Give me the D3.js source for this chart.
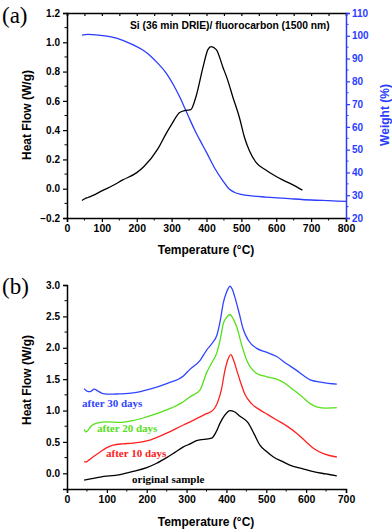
<!DOCTYPE html>
<html>
<head>
<meta charset="utf-8">
<script src="https://cdn.jsdelivr.net/npm/d3@7"></script>
<style>
body { margin: 0; background: #fff; }
svg { display: block; }
</style>
</head>
<body>
<svg id="chart" width="392" height="530"></svg>
<script>

// ---- panel (a) data ----
var heatT = [43, 50, 60, 80, 100, 130, 160, 200, 220, 260, 285, 300, 323, 340, 355, 370, 390, 404, 413, 428, 447, 461, 475, 494, 509, 523, 542, 570, 595, 618, 645, 675];
var heatA = [-0.08, -0.07, -0.06, -0.04, -0.015, 0.02, 0.06, 0.11, 0.15, 0.27, 0.38, 0.44, 0.52, 0.535, 0.54, 0.63, 0.83, 0.95, 0.97, 0.95, 0.83, 0.74, 0.63, 0.49, 0.35, 0.26, 0.18, 0.128, 0.09, 0.06, 0.03, -0.01];

var weightT = [43, 60, 90, 123, 160, 190, 215, 237, 260, 285, 305, 323, 337, 350, 365, 380, 400, 425, 447, 466, 480, 499, 530, 570, 637, 700, 750, 800];
var weightA = [100.3, 100.6, 100.3, 99.6, 98.0, 96.0, 94.0, 91.5, 88, 83.5, 78.5, 73.2, 68.5, 64, 59, 54.5, 48.8, 41.5, 36.3, 32.6, 31.3, 30.4, 29.7, 29.2, 28.5, 27.9, 27.6, 27.3];

var aXTicks = [0, 100, 200, 300, 400, 500, 600, 700, 800];
var aYTicks = [-0.2, 0.0, 0.2, 0.4, 0.6, 0.8, 1.0, 1.2];
var aWTicks = [20, 30, 40, 50, 60, 70, 80, 90, 100, 110];

// ---- panel (b) data ----
var d30T = [43, 50, 58, 68, 78, 90, 108, 130, 166, 208, 250, 292, 309, 334, 350, 365, 376, 385, 392, 400, 409, 415, 421, 432, 442, 455, 476, 500, 526, 550, 576, 595, 610, 640, 677];
var d30 = [1.35, 1.31, 1.30, 1.34, 1.31, 1.27, 1.26, 1.265, 1.28, 1.34, 1.43, 1.55, 1.66, 1.80, 1.96, 2.08, 2.2, 2.45, 2.71, 2.88, 2.98, 2.93, 2.81, 2.55, 2.3, 2.12, 1.99, 1.93, 1.86, 1.75, 1.64, 1.55, 1.49, 1.45, 1.42];

var d20T = [43, 47, 52, 60, 75, 100, 133, 166, 200, 250, 292, 309, 334, 350, 365, 376, 385, 392, 400, 409, 417, 426, 438, 451, 476, 500, 526, 550, 568, 590, 610, 626, 650, 677];
var d20 = [0.70, 0.66, 0.68, 0.75, 0.80, 0.82, 0.81, 0.84, 0.90, 1.01, 1.14, 1.22, 1.33, 1.60, 1.78, 1.92, 2.15, 2.38, 2.48, 2.53, 2.46, 2.33, 2.05, 1.80, 1.59, 1.54, 1.50, 1.42, 1.33, 1.22, 1.11, 1.06, 1.04, 1.045];

var d10T = [43, 48, 55, 65, 83, 100, 116, 140, 166, 208, 250, 292, 309, 334, 350, 367, 380, 388, 395, 403, 411, 418, 426, 436, 447, 463, 484, 505, 526, 550, 576, 600, 618, 645, 677];
var d10 = [0.185, 0.18, 0.21, 0.26, 0.34, 0.41, 0.45, 0.47, 0.48, 0.53, 0.64, 0.77, 0.82, 0.90, 0.95, 1.01, 1.17, 1.35, 1.60, 1.80, 1.89, 1.80, 1.64, 1.44, 1.25, 1.11, 1.01, 0.93, 0.85, 0.76, 0.64, 0.50, 0.40, 0.31, 0.26];

var origT = [43, 83, 133, 166, 200, 225, 250, 270, 292, 309, 325, 342, 363, 375, 384, 395, 409, 420, 434, 455, 470, 484, 500, 518, 540, 559, 590, 618, 650, 677];
var orig = [-0.11, -0.06, -0.02, 0.03, 0.09, 0.16, 0.25, 0.33, 0.42, 0.47, 0.52, 0.54, 0.56, 0.67, 0.80, 0.92, 1.0, 0.98, 0.91, 0.80, 0.62, 0.45, 0.35, 0.26, 0.19, 0.13, 0.075, 0.025, -0.01, -0.04];

var bXTicks = [0, 100, 200, 300, 400, 500, 600, 700];
var bYTicks = [0.0, 0.5, 1.0, 1.5, 2.0, 2.5, 3.0];

var bSeries = [
	{ name: "after 30 days", t: d30T, v: d30, color: "#3045ff", lx: 82, ly: 407 },
	{ name: "after 20 days", t: d20T, v: d20, color: "#55e01a", lx: 97, ly: 432 },
	{ name: "after 10 days", t: d10T, v: d10, color: "#ff2020", lx: 106, ly: 457 },
	{ name: "original sample", t: origT, v: orig, color: "#000000", lx: 132, ly: 483 }
];

var sans = "'Liberation Sans', Arial, sans-serif";
var serif = "'Liberation Serif', 'Times New Roman', serif";

var svg = d3.select("#chart");

//helper: zip two arrays into points
function zip(t, v) {
	return t.map(function(d, i) { return [d, v[i]]; });
}

//helper: draw minor ticks between majors
function minor(g, scale, vals, orient, len, color) {
	vals.forEach(function(v) {
		var p = scale(v);
		var l = g.append("line").attr("stroke", color).attr("stroke-width", 1);
		if (orient == "left") l.attr("x1", 0).attr("x2", -len).attr("y1", p).attr("y2", p);
		if (orient == "right") l.attr("x1", 0).attr("x2", len).attr("y1", p).attr("y2", p);
		if (orient == "bottom") l.attr("x1", p).attr("x2", p).attr("y1", 0).attr("y2", len);
		if (orient == "top") l.attr("x1", p).attr("x2", p).attr("y1", 0).attr("y2", len);
	});
}

function styleAxis(g, color, size) {
	g.selectAll("path").attr("stroke", color).attr("stroke-width", 1.5);
	g.selectAll("line").attr("stroke", color).attr("stroke-width", 1.2);
	g.selectAll("text").attr("fill", color)
		.style("font-family", sans).style("font-weight", "bold").style("font-size", size + "px");
}

/* ================= panel (a) ================= */
var ax = d3.scaleLinear().domain([0, 800]).range([67, 346]);
var ay = d3.scaleLinear().domain([-0.2, 1.2]).range([218, 13]);
var aw = d3.scaleLinear().domain([20, 110]).range([218, 13]);

//bottom axis
var gab = svg.append("g").attr("transform", "translate(0,218)")
	.call(d3.axisBottom(ax).tickValues(aXTicks).tickFormat(d3.format("d")).tickSizeOuter(0).tickSize(4).tickPadding(3));
styleAxis(gab, "#000", 10.5);
minor(gab, ax, d3.range(50, 800, 100), "bottom", 2.5, "#000");

//top axis (frame, ticks inside)
var gat = svg.append("g").attr("transform", "translate(0,13)")
	.call(d3.axisBottom(ax).tickValues(d3.range(0, 801, 50)).tickFormat("").tickSizeOuter(0).tickSize(3));
styleAxis(gat, "#000", 10);

//left axis
var gal = svg.append("g").attr("transform", "translate(67,0)")
	.call(d3.axisLeft(ay).tickValues(aYTicks).tickFormat(d3.format(".1f")).tickSizeOuter(0).tickSize(4).tickPadding(3));
styleAxis(gal, "#000", 10);
minor(gal, ay, d3.range(-0.1, 1.2, 0.2), "left", 2.5, "#000");

//right axis (weight, blue)
var gar = svg.append("g").attr("transform", "translate(346,0)")
	.call(d3.axisRight(aw).tickValues(aWTicks).tickFormat(d3.format("d")).tickSizeOuter(0).tickSize(4).tickPadding(2));
styleAxis(gar, "#2a3cff", 10);
minor(gar, aw, d3.range(25, 110, 10), "right", 2.5, "#2a3cff");

//curves
var lineA = d3.line().x(function(d) { return ax(d[0]); }).y(function(d) { return ay(d[1]); }).curve(d3.curveMonotoneX);
var lineW = d3.line().x(function(d) { return ax(d[0]); }).y(function(d) { return aw(d[1]); }).curve(d3.curveMonotoneX);

svg.append("path").datum(zip(weightT, weightA))
	.attr("d", lineW).attr("fill", "none").attr("stroke", "#2a3cff").attr("stroke-width", 1.3);
svg.append("path").datum(zip(heatT, heatA))
	.attr("d", lineA).attr("fill", "none").attr("stroke", "#000").attr("stroke-width", 1.3);

//texts
svg.append("text").attr("x", 130).attr("y", 29)
	.style("font-family", sans).style("font-weight", "bold").style("font-size", "10.3px")
	.text("Si (36 min DRIE)/ fluorocarbon (1500 nm)");
svg.append("text").attr("x", 2).attr("y", 23)
	.style("font-family", serif).style("font-size", "23px").text("(a)");
svg.append("text").attr("transform", "translate(31,115) rotate(-90)").attr("text-anchor", "middle")
	.style("font-family", sans).style("font-weight", "bold").style("font-size", "12px").text("Heat Flow (W/g)");
svg.append("text").attr("transform", "translate(389,115) rotate(-90)").attr("text-anchor", "middle")
	.attr("fill", "#2a3cff")
	.style("font-family", sans).style("font-weight", "bold").style("font-size", "12px").text("Weight (%)");
svg.append("text").attr("x", 206).attr("y", 254).attr("text-anchor", "middle")
	.style("font-family", sans).style("font-weight", "bold").style("font-size", "12px").text("Temperature (°C)");

/* ================= panel (b) ================= */
var bx = d3.scaleLinear().domain([0, 700]).range([67, 346]);
var by = d3.scaleLinear().domain([-0.25, 3.0]).range([489, 285]);

var gbb = svg.append("g").attr("transform", "translate(0,489)")
	.call(d3.axisBottom(bx).tickValues(bXTicks).tickFormat(d3.format("d")).tickSizeOuter(0).tickSize(4).tickPadding(3));
styleAxis(gbb, "#000", 10.5);
minor(gbb, bx, d3.range(50, 700, 100), "bottom", 2.5, "#000");

var gbl = svg.append("g").attr("transform", "translate(67,0)")
	.call(d3.axisLeft(by).tickValues(bYTicks).tickFormat(d3.format(".1f")).tickSizeOuter(0).tickSize(4).tickPadding(3));
styleAxis(gbl, "#000", 10);
minor(gbl, by, d3.range(0.25, 3.0, 0.5), "left", 2.5, "#000");

var lineB = d3.line().x(function(d) { return bx(d[0]); }).y(function(d) { return by(d[1]); }).curve(d3.curveMonotoneX);

bSeries.forEach(function(s) {
	svg.append("path").datum(zip(s.t, s.v))
		.attr("d", lineB).attr("fill", "none").attr("stroke", s.color).attr("stroke-width", 1.3);
	svg.append("text").attr("x", s.lx).attr("y", s.ly).attr("fill", s.color)
		.style("font-family", serif).style("font-weight", "bold").style("font-size", "11px").text(s.name);
});

svg.append("text").attr("x", 2).attr("y", 294)
	.style("font-family", serif).style("font-size", "23px").text("(b)");
svg.append("text").attr("transform", "translate(31,380) rotate(-90)").attr("text-anchor", "middle")
	.style("font-family", sans).style("font-weight", "bold").style("font-size", "12px").text("Heat Flow (W/g)");
svg.append("text").attr("x", 206).attr("y", 526).attr("text-anchor", "middle")
	.style("font-family", sans).style("font-weight", "bold").style("font-size", "12px").text("Temperature (°C)");

</script>
</body>
</html>
